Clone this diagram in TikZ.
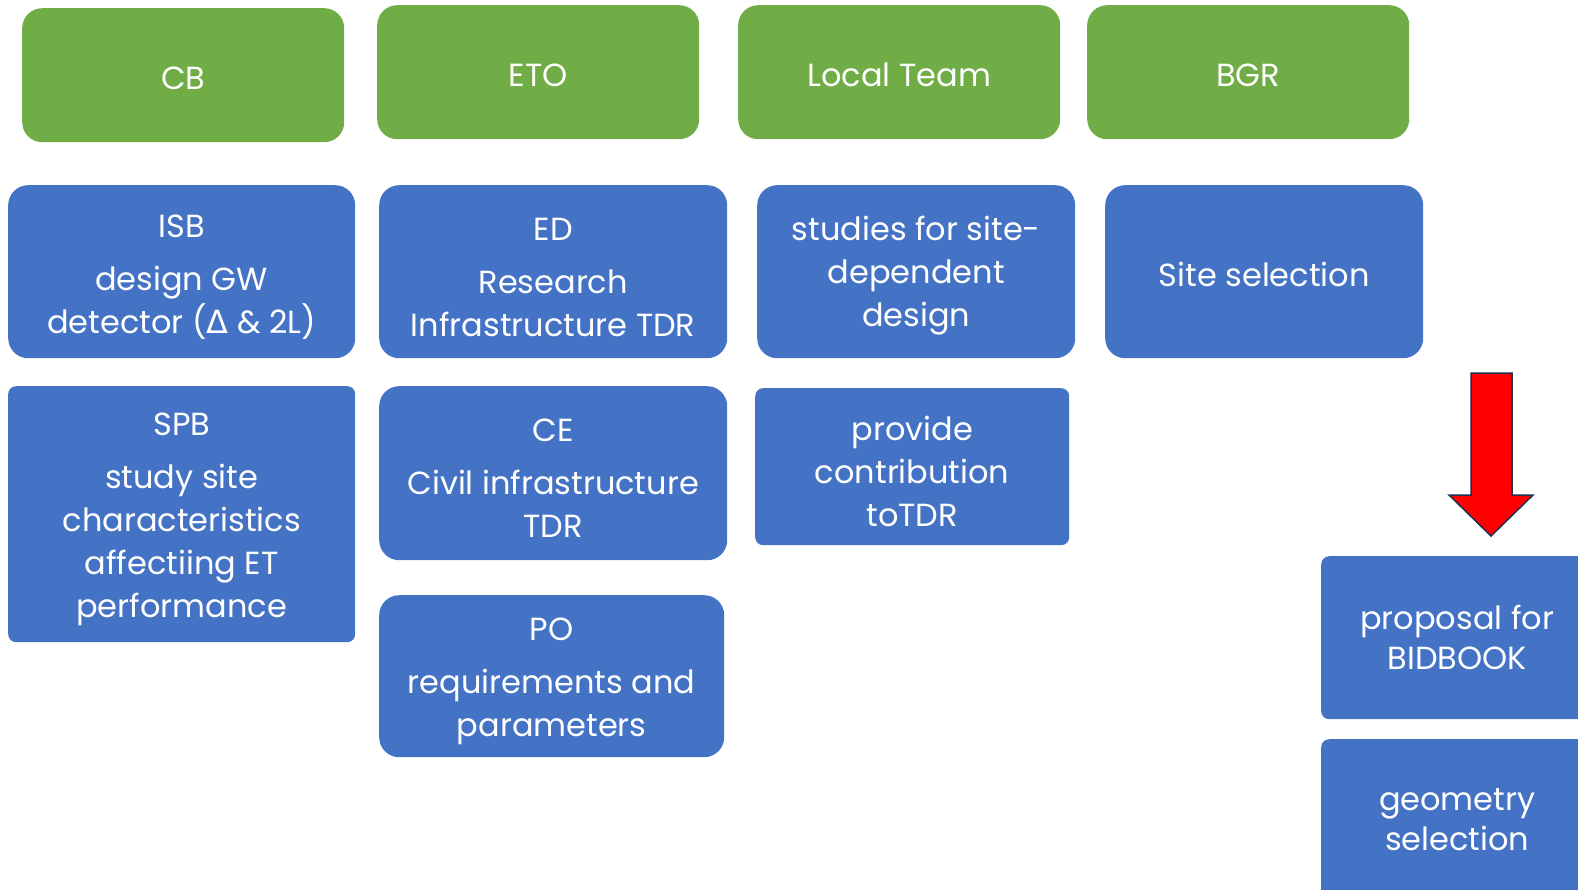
\documentclass[tikz,border=0pt]{standalone}
\usepackage{fontspec}
\setmainfont{Poppins}
\newfontfamily\deltafont{DejaVu Sans}
\definecolor{teamgreen}{HTML}{70AD47}
\definecolor{taskblue}{HTML}{4472C4}
\definecolor{arrowedge}{HTML}{1F2F4F}
% invisible struts that push the text a bit lower in its box
\newcommand\oneline{\rule{0pt}{29pt}}
\newcommand\firstline{\rule{0pt}{33pt}}
\tikzset{
  box/.style={anchor=north west, text=white, align=center, inner sep=0pt,
    font=\fontsize{32}{43}\selectfont},
  team/.style={box, fill=teamgreen, rounded corners=20pt},
  task/.style={box, fill=taskblue, rounded corners=20pt},
  flat/.style={box, fill=taskblue, rounded corners=8pt},
  result/.style={flat, font=\fontsize{32}{40}\selectfont},
}
\begin{document}
\begin{tikzpicture}[x=1pt, y=-1pt]
\useasboundingbox (0,0) rectangle (1578,890);

% groups along the top
\node[team, minimum width=322pt, minimum height=134pt] (cb) at (22,8) {\oneline CB};
\node[team, minimum width=322pt, minimum height=134pt] (eto) at (377,5) {\oneline ETO};
\node[team, minimum width=322pt, minimum height=134pt] (local) at (738,5) {\oneline Local Team};
\node[team, minimum width=322pt, minimum height=134pt] (bgr) at (1087,5) {\oneline BGR};

% first row of tasks
\node[task, minimum width=347pt, minimum height=173pt] (isb) at (8,185)
  {\firstline ISB\\[10pt] design GW\\ detector ({\deltafont Δ} \& 2L)};
\node[task, minimum width=348pt, minimum height=173pt] (ed) at (379,185)
  {\firstline ED\\[10pt] Research\\ Infrastructure TDR};
\node[task, minimum width=318pt, minimum height=173pt] (studies) at (757,185)
  {\firstline studies for site-\\ dependent\\ design};
\node[task, minimum width=318pt, minimum height=173pt] (site) at (1105,185)
  {\oneline Site selection};

% second row
\node[flat, minimum width=347pt, minimum height=256pt] (spb) at (8,386)
  {\firstline SPB\\[10pt] study site\\ characteristics\\ affectiing ET\\ performance};
\node[task, minimum width=348pt, minimum height=174pt] (ce) at (379,386)
  {\firstline CE\\[10pt] Civil infrastructure\\ TDR};
\node[flat, minimum width=314pt, minimum height=157pt] (provide) at (755,388)
  {\firstline provide\\ contribution\\ toTDR};
\node[task, minimum width=345pt, minimum height=162pt] (po) at (379,595)
  {\firstline PO\\[10pt] requirements and\\ parameters};

% outcome on the right
\node[result, minimum width=272pt, minimum height=163pt] (bidbook) at (1321,556)
  {proposal for\\ BIDBOOK};
\node[result, minimum width=272pt, minimum height=160pt] (geometry) at (1321,739)
  {geometry\\ selection};

\draw[fill=red, draw=arrowedge, line width=1.5pt, line join=miter]
  (1471,373) -- (1512,373) -- (1512,495) -- (1533,495) -- (1491,536)
  -- (1449,495) -- (1471,495) -- cycle;
\end{tikzpicture}
\end{document}
